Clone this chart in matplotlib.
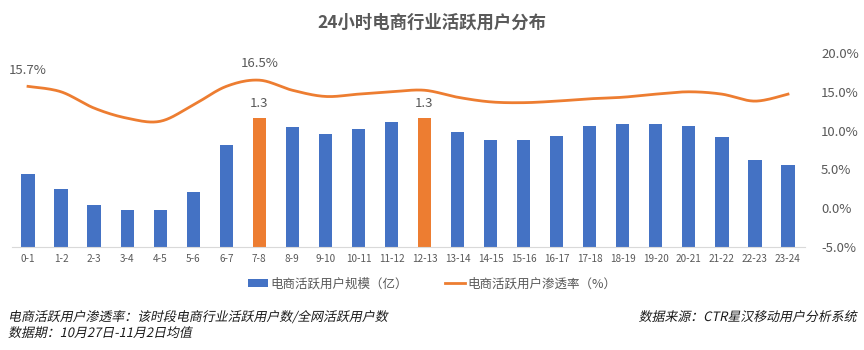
import numpy as np
import matplotlib
matplotlib.use("Agg")
import matplotlib.pyplot as plt
from matplotlib.textpath import TextPath
from matplotlib.patches import PathPatch, Patch
from matplotlib.font_manager import FontProperties
from matplotlib.transforms import Affine2D, IdentityTransform
from matplotlib.lines import Line2D

plt.rcParams['font.family'] = ['Noto Sans CJK SC', 'DejaVu Sans']

hours = ["0-1", "1-2", "2-3", "3-4", "4-5", "5-6", "6-7", "7-8", "8-9", "9-10",
         "10-11", "11-12", "12-13", "13-14", "14-15", "15-16", "16-17", "17-18",
         "18-19", "19-20", "20-21", "21-22", "22-23", "23-24"]
users = [0.74, 0.59, 0.42, 0.37, 0.37, 0.56, 1.03, 1.30, 1.21, 1.14,
         1.19, 1.26, 1.30, 1.16, 1.08, 1.08, 1.12, 1.22,
         1.24, 1.24, 1.22, 1.11, 0.88, 0.83]
penetration = [15.7, 15.0, 12.9, 11.6, 11.2, 13.3, 15.7, 16.5, 15.2, 14.4,
               14.7, 15.0, 15.2, 14.3, 13.7, 13.6, 13.8, 14.1,
               14.3, 14.7, 15.0, 14.7, 13.8, 14.7]
peak_hours = ["7-8", "12-13"]
pct_labels = {"0-1": "15.7%", "7-8": "16.5%"}

BLUE = "#4472C4"
ORANGE = "#ED7D31"
GRAY = "#595959"
W, H = 864, 350


def catmull_rom(x, y, n=20):
    x = np.asarray(x, float)
    y = np.asarray(y, float)
    px = np.concatenate([[x[0]], x, [x[-1]]])
    py = np.concatenate([[y[0]], y, [y[-1]]])
    xs, ys = [], []
    t = np.linspace(0, 1, n, endpoint=False)
    for i in range(1, len(px) - 2):
        p0, p1, p2, p3 = [np.array([px[j], py[j]]) for j in (i - 1, i, i + 1, i + 2)]
        t2, t3 = t * t, t * t * t
        pts = 0.5 * ((2 * p1)[:, None] + (-p0 + p2)[:, None] * t
                     + (2 * p0 - 5 * p1 + 4 * p2 - p3)[:, None] * t2
                     + (-p0 + 3 * p1 - 3 * p2 + p3)[:, None] * t3)
        xs.extend(pts[0]); ys.extend(pts[1])
    xs.append(x[-1]); ys.append(y[-1])
    return np.array(xs), np.array(ys)


fig = plt.figure(figsize=(W / 100, H / 100), dpi=100)
ax = fig.add_axes([11.5 / W, 103 / H, 793 / W, 194 / H])
x = np.arange(len(hours))
colors = [ORANGE if h in peak_hours else BLUE for h in hours]
ax.bar(x, users, width=0.4, color=colors, zorder=2)
ax.set_ylim(0, 1.96)
ax.set_xlim(-0.5, len(hours) - 0.5)
ax.set_yticks([])
for s in ["top", "right", "left"]:
    ax.spines[s].set_visible(False)
ax.spines["bottom"].set_color("#D9D9D9")
ax.spines["bottom"].set_linewidth(0.8)
ax.set_xticks(x)
ax.set_xticklabels(hours, fontsize=7.2, color=GRAY)
ax.tick_params(axis="x", length=0, pad=5)
for xi, h, v in zip(x, hours, users):
    if h in peak_hours:
        ax.annotate(f"{v:.1f}", (xi, v), xytext=(0, 6), textcoords="offset points",
                    ha="center", va="bottom", fontsize=9.5, color=GRAY)

ax2 = ax.twinx()
sx, sy = catmull_rom(x, penetration)
ax2.plot(sx, sy, color=ORANGE, lw=2.0, zorder=3)
ax2.set_ylim(-5, 20)
ax2.set_yticks([-5, 0, 5, 10, 15, 20])
ax2.set_yticklabels([f"{v:.1f}%" for v in [-5, 0, 5, 10, 15, 20]], fontsize=9.5, color=GRAY)
ax2.tick_params(axis="y", length=0, pad=12)
for s in ["top", "right", "left", "bottom"]:
    ax2.spines[s].set_visible(False)
for xi, h, v in zip(x, hours, penetration):
    if h in pct_labels:
        ax2.annotate(pct_labels[h], (xi, v), xytext=(0, 7), textcoords="offset points",
                     ha="center", va="bottom", fontsize=9.5, color=GRAY)

fig.text(0.5, 1 - 23 / H, "24小时电商行业活跃用户分布", ha="center", va="center",
         fontsize=12.5, fontweight="bold", color=GRAY)

handles = [Patch(facecolor=BLUE, edgecolor="none"),
           Line2D([0], [0], color=ORANGE, lw=2)]
fig.legend(handles, ["电商活跃用户规模（亿）", "电商活跃用户渗透率（%）"],
           loc="center", bbox_to_anchor=(0.5, 1 - 284 / H), ncol=2, frameon=False,
           fontsize=9, labelcolor=GRAY, handlelength=1.6, handleheight=0.6,
           columnspacing=3.0, handletextpad=0.2)


def slanted_text(s, x_px, y_px, size, ha="left"):
    # oblique footnote text drawn as a sheared glyph path in pixel space
    fp = FontProperties(family="Noto Sans CJK SC", size=size, weight="medium")
    tp = TextPath((0, 0), s, prop=fp, size=size * 100 / 72)
    ext = tp.get_extents()
    dx = -ext.x1 if ha == "right" else 0
    path = tp.transformed(Affine2D().translate(dx, 0).skew_deg(12, 0)
                          .translate(x_px, H - y_px))
    patch = PathPatch(path, facecolor="#1A1A1A", edgecolor="none",
                      transform=IdentityTransform())
    fig.patches.append(patch)


slanted_text("电商活跃用户渗透率：该时段电商行业活跃用户数/全网活跃用户数", 8, 321, 9.3)
slanted_text("数据期：10月27日-11月2日均值", 8, 337, 9.3)
slanted_text("数据来源：CTR星汉移动用户分析系统", 856, 321, 9.3, ha="right")

fig.savefig("out.png", dpi=100)
